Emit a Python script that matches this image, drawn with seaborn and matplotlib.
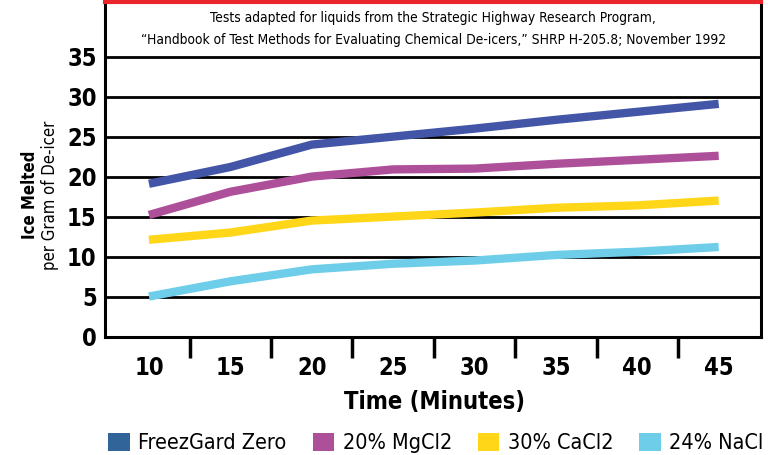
import matplotlib.pyplot as plt
import numpy as np
import pandas as pd
import seaborn as sns
from matplotlib.patches import Patch

# values
minutes = ['10', '15', '20', '25', '30', '35', '40', '45']
freezgard = [19.1, 21.2, 24.0, 25.0, 26.0, 27.1, 28.1, 29.1]
mgcl2 = [15.2, 18.1, 20.0, 20.9, 21.0, 21.6, 22.1, 22.6]
cacl2 = [12.1, 13.0, 14.5, 15.0, 15.5, 16.1, 16.4, 17.0]
nacl = [5.0, 6.9, 8.4, 9.1, 9.5, 10.2, 10.6, 11.2]
series = ['FreezGard Zero', '20% MgCl2', '30% CaCl2', '24% NaCl']
line_colors = ['#4355A6', '#AE4F9A', '#FFD618', '#6ECEEA']
legend_colors = ['#316499', '#AE4F9A', '#FFD618', '#6ECEEA']
y_ticks = [0, 5, 10, 15, 20, 25, 30, 35]

df = pd.DataFrame({
    'Time': minutes * 4,
    'Melted': freezgard + mgcl2 + cacl2 + nacl,
    'Product': np.repeat(series, len(minutes)),
})

sns.set_theme(style='white')
plt.rcParams['font.family'] = ['DejaVu Sans']
plt.rcParams['font.stretch'] = 'condensed'
plt.rcParams['text.color'] = 'black'

fig = plt.figure(figsize=(7.68, 4.55), dpi=100)
ax = fig.add_axes([105 / 768, 1 - 336.5 / 455, 656 / 768, 335 / 455])

sns.lineplot(data=df, x='Time', y='Melted', hue='Product', palette=line_colors,
             sort=False, linewidth=6, legend=False, ax=ax)
for ln in ax.lines:
    ln.set_solid_capstyle('butt')
    ln.set_solid_joinstyle('round')

ax.set_xlim(-0.54, 7.52)
ax.set_ylim(0, 41.9)
ax.set_yticks(y_ticks)
ax.set_yticklabels([str(v) for v in y_ticks], fontsize=17, fontweight='bold')
ax.set_xticks(range(len(minutes)))
ax.set_xticklabels(minutes, fontsize=17, fontweight='bold')
ax.set_xticks(np.arange(0.5, len(minutes) - 1, 1.0), minor=True)
ax.tick_params(axis='x', which='major', length=0, pad=14, colors='black')
ax.tick_params(axis='x', which='minor', bottom=True, length=15, width=2.5,
               direction='out', color='black')
ax.tick_params(axis='y', length=0, pad=6, colors='black')
ax.set_xlabel('')
ax.set_ylabel('')

ax.yaxis.grid(True, color='black', linewidth=2)
ax.xaxis.grid(False)
ax.set_axisbelow(True)

for side in ['left', 'right', 'bottom']:
    ax.spines[side].set_color('black')
    ax.spines[side].set_linewidth(2.2)
ax.spines['top'].set_color('#E8262C')
ax.spines['top'].set_linewidth(3)

fig.text(0.564, 1 - 18 / 455, 'Tests adapted for liquids from the Strategic Highway Research Program,',
         ha='center', va='center', fontsize=9.9)
fig.text(0.564, 1 - 40 / 455,
         '\u201cHandbook of Test Methods for Evaluating Chemical De-icers,\u201d SHRP H-205.8; November 1992',
         ha='center', va='center', fontsize=9.9)

fig.text(30 / 768, 1 - 195 / 455, 'Ice Melted', rotation=90, ha='center', va='center',
         fontsize=12, fontweight='bold')
fig.text(50 / 768, 1 - 195 / 455, 'per Gram of De-icer', rotation=90, ha='center', va='center',
         fontsize=12)

fig.text(434 / 768, 1 - 402 / 455, 'Time (Minutes)', ha='center', va='center',
         fontsize=17, fontweight='bold')

handles = [Patch(facecolor=c, edgecolor='none') for c in legend_colors]
fig.legend(handles, series, loc='center', bbox_to_anchor=(436 / 768, 1 - 443 / 455),
           ncol=4, frameon=False, fontsize=15.5, handlelength=1.0, handleheight=0.9,
           handletextpad=0.4, columnspacing=1.2, borderaxespad=0, borderpad=0)

fig.savefig('out.png', dpi=100)
